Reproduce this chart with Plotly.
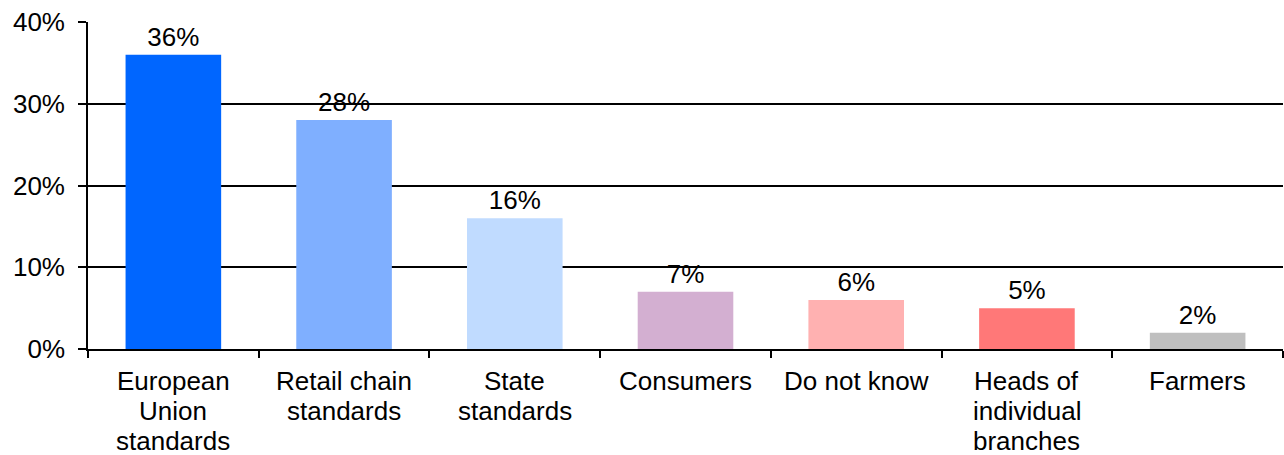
import plotly.graph_objects as go

# Survey answers and their shares (percent)
categories = [
    "European Union standards",
    "Retail chain standards",
    "State standards",
    "Consumers",
    "Do not know",
    "Heads of individual branches",
    "Farmers",
]
label_lines = [
    ["European", "Union", "standards"],
    ["Retail chain", "standards"],
    ["State", "standards"],
    ["Consumers"],
    ["Do not know"],
    ["Heads of", "individual", "branches"],
    ["Farmers"],
]
values = [36, 28, 16, 7, 6, 5, 2]
bar_colors = ["#0066FF", "#7FAFFF", "#C0DBFF", "#D3AFD1", "#FFB1B1", "#FF7878", "#BFBFBF"]

FONT = "Liberation Sans, Arial, sans-serif"
FS = 26

fig = go.Figure(
    go.Bar(
        x=categories,
        y=values,
        marker=dict(color=bar_colors, line=dict(width=0)),
        text=[f"{v}%" for v in values],
        textposition="outside",
        textfont=dict(family=FONT, size=FS, color="black"),
        cliponaxis=False,
        hoverinfo="skip",
    )
)

# Category labels, one annotation per line for tight line spacing
annotations = []
for cat, lines in zip(categories, label_lines):
    for i, line in enumerate(lines):
        annotations.append(
            dict(
                x=cat, y=0, xref="x", yref="y",
                text=line, showarrow=False,
                xanchor="center", yanchor="top",
                yshift=-15 - 30 * i,
                font=dict(family=FONT, size=FS, color="black"),
            )
        )

fig.update_layout(
    width=1284,
    height=455,
    margin=dict(l=88, r=1, t=22, b=106),
    paper_bgcolor="white",
    plot_bgcolor="white",
    bargap=0.44,
    showlegend=False,
    font=dict(family=FONT, size=FS, color="black"),
    annotations=annotations,
    uniformtext=dict(mode=False),
)

fig.update_xaxes(
    type="category",
    range=[-0.5, 6.5],
    showticklabels=False,
    tickson="boundaries",
    ticks="outside",
    ticklen=7,
    tickwidth=1.6,
    tickcolor="black",
    showline=True,
    linecolor="black",
    linewidth=1.6,
    showgrid=False,
    zeroline=False,
)

fig.update_yaxes(
    range=[0, 40],
    dtick=10,
    ticksuffix="%",
    ticks="outside",
    ticklen=8,
    tickwidth=1.6,
    tickcolor="black",
    ticklabelstandoff=8,
    showline=True,
    linecolor="black",
    linewidth=1.6,
    showgrid=True,
    gridcolor="black",
    gridwidth=1.6,
    zeroline=False,
    tickfont=dict(family=FONT, size=FS, color="black"),
)

fig.write_html("out.html", config={"displayModeBar": False})
